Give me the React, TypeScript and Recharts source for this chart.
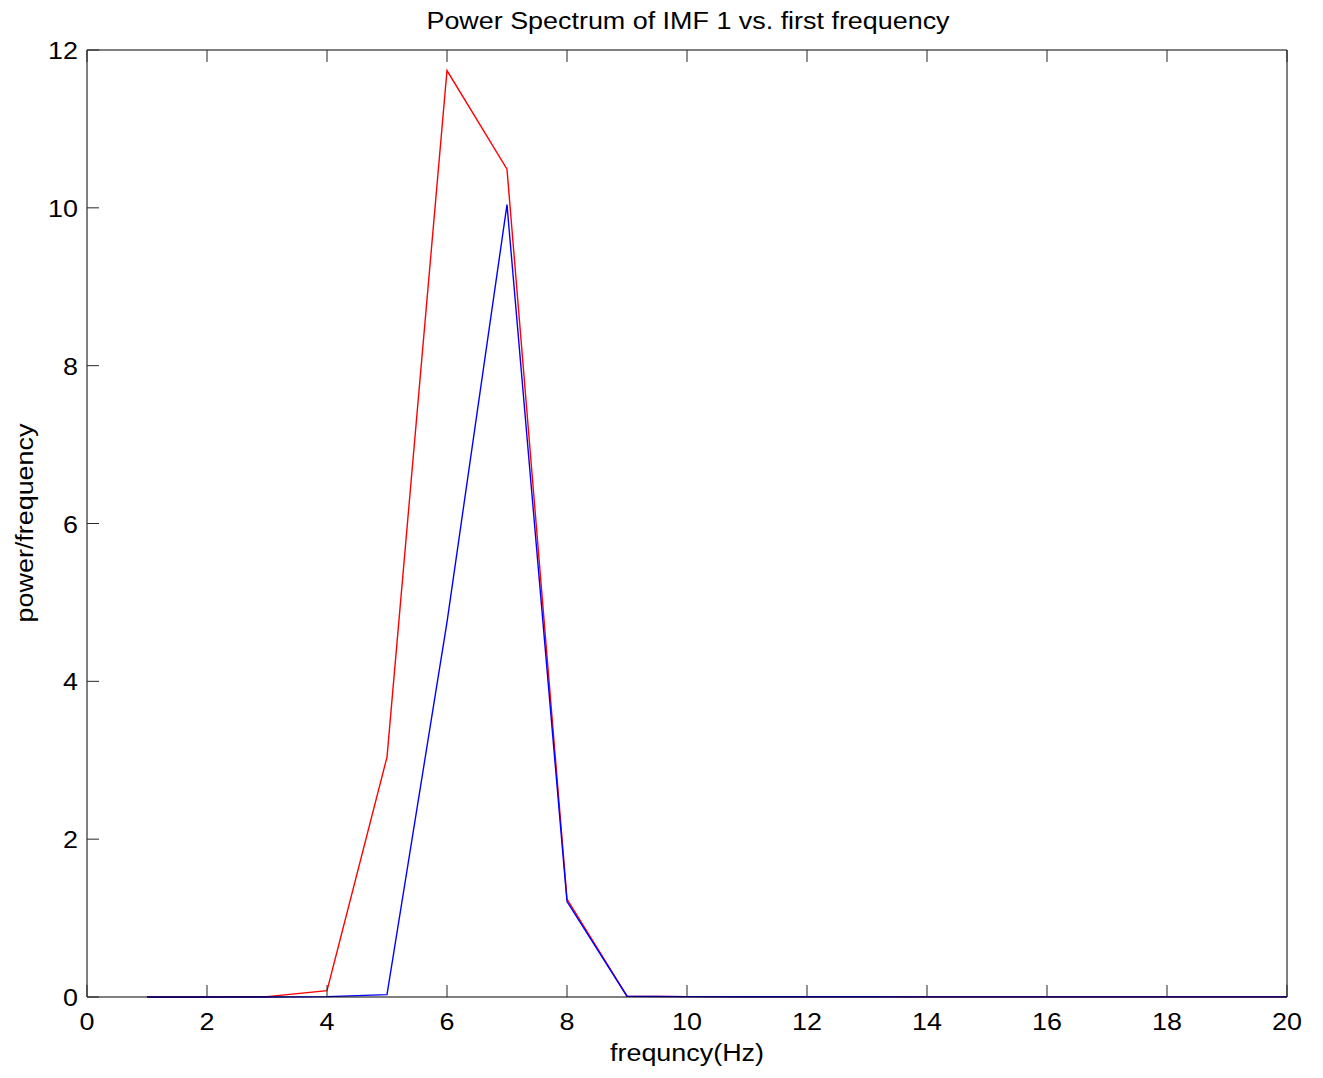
import React from "react";
import { LineChart, Line, XAxis, YAxis } from "recharts";

const frequencies = [1, 2, 3, 4, 5, 6, 7, 8, 9, 10, 11, 12, 13, 14, 15, 16, 17, 18, 19, 20];
const imfPower = [0, 0, 0.005, 0.08, 3.04, 11.74, 10.49, 1.24, 0.01, 0.005, 0.004, 0.003, 0.003, 0.002, 0.002, 0.002, 0.001, 0.001, 0.001, 0.001];
const firstFreqPower = [0, 0, 0, 0.005, 0.03, 4.75, 10.04, 1.21, 0.01, 0.005, 0.004, 0.003, 0.003, 0.002, 0.002, 0.002, 0.001, 0.001, 0.001, 0.001];
const xTicks = [0, 2, 4, 6, 8, 10, 12, 14, 16, 18, 20];
const yTicks = [0, 2, 4, 6, 8, 10, 12];
const titleText = "Power Spectrum of IMF 1 vs. first frequency";
const xLabelText = "frequncy(Hz)";
const yLabelText = "power/frequency";

const data = frequencies.map((f, i) => ({ f, red: imfPower[i], blue: firstFreqPower[i] }));

const FONT = "'Liberation Sans', Arial, Helvetica, sans-serif";
const TICK_LEN = 12;
const FS = 23;
const SX = 1.17;

const T = ({ x, y, anchor = "middle", rot = 0, children }: any) => (
  <text
    transform={`translate(${x},${y}) rotate(${rot}) scale(${SX},1)`}
    x={0}
    y={0}
    textAnchor={anchor}
    fontSize={FS}
    fontFamily={FONT}
    fill="#000"
  >
    {children}
  </text>
);

const BottomTick = (props: any) => {
  const { x, y, payload } = props;
  return (
    <g>
      <line x1={x} y1={y} x2={x} y2={y - TICK_LEN} stroke="#262626" strokeWidth={1} />
      <T x={x} y={y + 33}>{payload.value}</T>
    </g>
  );
};

const TopTick = (props: any) => {
  const { x, y } = props;
  return <line x1={x} y1={y} x2={x} y2={y + TICK_LEN} stroke="#262626" strokeWidth={1} />;
};

const LeftTick = (props: any) => {
  const { x, y, payload } = props;
  return (
    <g>
      <line x1={x} y1={y} x2={x + TICK_LEN} y2={y} stroke="#262626" strokeWidth={1} />
      <T x={x - 9} y={y + 9} anchor="end">{payload.value}</T>
    </g>
  );
};

const RightTick = (props: any) => {
  const { x, y } = props;
  return <line x1={x} y1={y} x2={x - TICK_LEN} y2={y} stroke="#262626" strokeWidth={1} />;
};

const axisLine = { stroke: "#000", strokeWidth: 1 };

export default function App() {
  return (
    <div style={{ position: "absolute", left: 0, top: 0, width: 1323, height: 1078, background: "#fff" }}>
      <LineChart width={1323} height={1078} data={data} margin={{ top: 0, right: 0, bottom: 0, left: 0 }}>
        <XAxis
          xAxisId="bottom"
          dataKey="f"
          type="number"
          domain={[0, 20]}
          ticks={xTicks}
          interval={0}
          height={81}
          tickSize={0}
          tickMargin={0}
          tickLine={false}
          axisLine={axisLine}
          tick={<BottomTick />}
        />
        <XAxis
          xAxisId="top"
          orientation="top"
          dataKey="f"
          type="number"
          domain={[0, 20]}
          ticks={xTicks}
          interval={0}
          height={50}
          tickSize={0}
          tickMargin={0}
          tickLine={false}
          axisLine={axisLine}
          tick={<TopTick />}
        />
        <YAxis
          yAxisId="left"
          type="number"
          domain={[0, 12]}
          ticks={yTicks}
          interval={0}
          width={87}
          tickSize={0}
          tickMargin={0}
          tickLine={false}
          axisLine={axisLine}
          tick={<LeftTick />}
        />
        <YAxis
          yAxisId="right"
          orientation="right"
          type="number"
          domain={[0, 12]}
          ticks={yTicks}
          interval={0}
          width={36}
          tickSize={0}
          tickMargin={0}
          tickLine={false}
          axisLine={axisLine}
          tick={<RightTick />}
        />
        <Line
          xAxisId="bottom"
          yAxisId="left"
          type="linear"
          dataKey="red"
          stroke="#ff0000"
          strokeWidth={1.4}
          dot={false}
          isAnimationActive={false}
        />
        <Line
          xAxisId="bottom"
          yAxisId="left"
          type="linear"
          dataKey="blue"
          stroke="#0000ff"
          strokeWidth={1.4}
          dot={false}
          isAnimationActive={false}
        />
      </LineChart>
      <svg
        width={1323}
        height={1078}
        style={{ position: "absolute", left: 0, top: 0, pointerEvents: "none" }}
      >
        <T x={688} y={29}>{titleText}</T>
        <T x={687} y={1061}>{xLabelText}</T>
        <T x={33} y={523} rot={-90}>{yLabelText}</T>
      </svg>
    </div>
  );
}
